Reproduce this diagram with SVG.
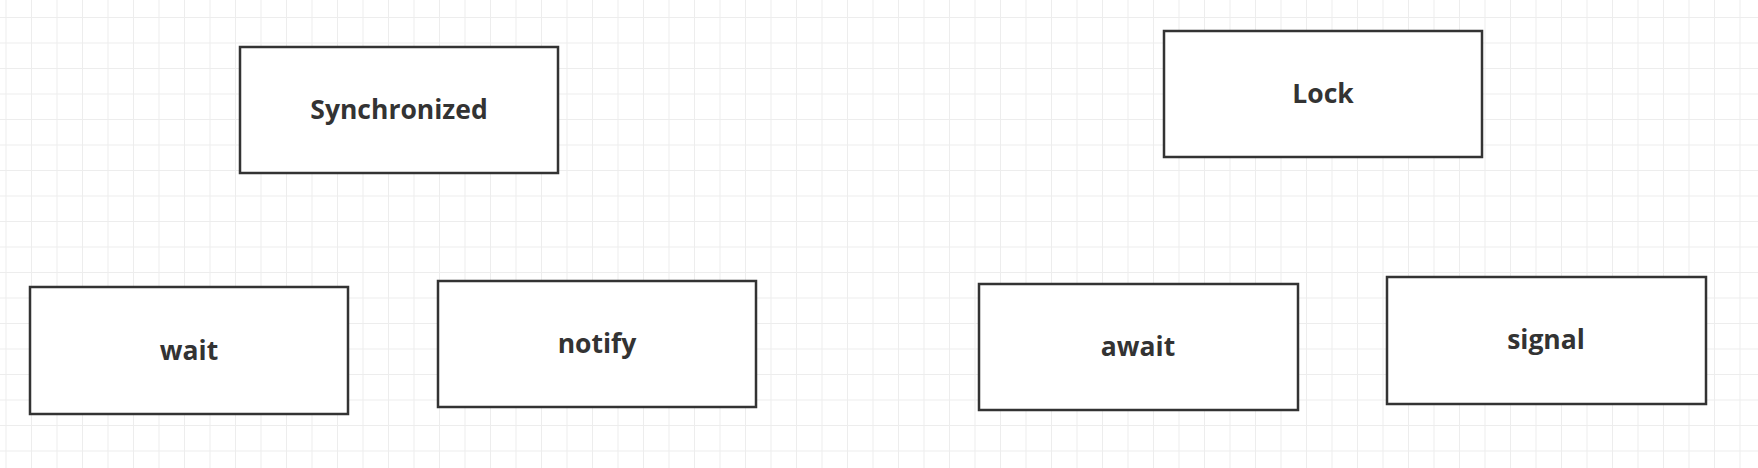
<svg xmlns="http://www.w3.org/2000/svg" width="1758" height="468" viewBox="0 0 1758 468">
<style>
.box{fill:#fff;stroke:#333;stroke-width:2.5}
.lbl{font-family:"Open Sans","Noto Sans",sans-serif;font-weight:bold;font-size:26.5px;fill:#333;text-anchor:middle}
</style>
<defs>
<pattern id="grid" patternUnits="userSpaceOnUse" x="82" y="17" width="102" height="102">
<path d="M0.5 0V102M26 0V102M51.5 0V102M77 0V102M0 0.5H102M0 26H102M0 51.5H102M0 77H102" stroke="#ededed" stroke-width="1" fill="none"/>
</pattern>
</defs>
<rect width="1758" height="468" fill="#fff"/>
<rect width="1758" height="468" fill="url(#grid)"/>
<g id="connectors"></g>
<g id="synchronized"><rect class="box" x="240" y="47" width="318" height="126"/><text class="lbl" x="399" y="119">Synchronized</text></g>
<g id="lock"><rect class="box" x="1164" y="31" width="318" height="126"/><text class="lbl" x="1323" y="103">Lock</text></g>
<g id="wait"><rect class="box" x="30" y="287" width="318" height="127"/><text class="lbl" x="189" y="360">wait</text></g>
<g id="notify"><rect class="box" x="438" y="281" width="318" height="126"/><text class="lbl" x="597" y="353">notify</text></g>
<g id="await"><rect class="box" x="979" y="284" width="319" height="126"/><text class="lbl" x="1138" y="356">await</text></g>
<g id="signal"><rect class="box" x="1387" y="277" width="319" height="127"/><text class="lbl" x="1546" y="349">signal</text></g>
</svg>
